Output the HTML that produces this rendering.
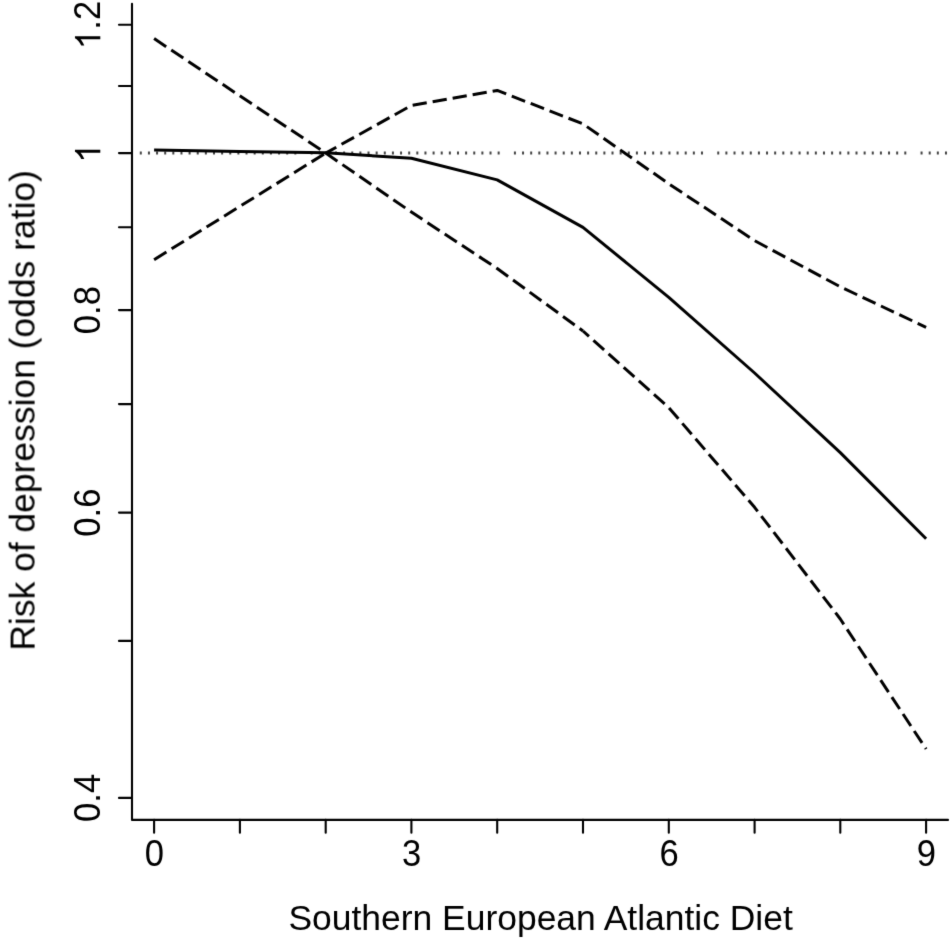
<!DOCTYPE html>
<html><head><meta charset="utf-8"><title>Chart</title>
<style>html,body{margin:0;padding:0;background:#fff}svg{display:block}text{font-family:"Liberation Sans",sans-serif;fill:#000}</style></head>
<body>
<svg width="950" height="941" viewBox="0 0 950 941">
<rect width="950" height="941" fill="#fff"/>
<defs><filter id="soft" x="0" y="0" width="950" height="941" filterUnits="userSpaceOnUse" color-interpolation-filters="sRGB"><feConvolveMatrix order="3" kernelMatrix="0.0100 0.0800 0.0100 0.0800 0.6400 0.0800 0.0100 0.0800 0.0100" divisor="1" edgeMode="duplicate" preserveAlpha="false"/></filter></defs>
<g filter="url(#soft)">
<path d="M139.80 153.1h2M147.93 153.1h2M156.07 153.1h2M164.20 153.1h2M172.33 153.1h2M180.47 153.1h2M188.60 153.1h2M196.73 153.1h2M204.86 153.1h2M213.00 153.1h2M221.13 153.1h2M229.26 153.1h2M237.40 153.1h2M245.53 153.1h2M253.66 153.1h2M261.80 153.1h2M269.93 153.1h2M278.06 153.1h2M286.19 153.1h2M294.33 153.1h2M310.59 153.1h2M318.73 153.1h2M326.86 153.1h2M334.99 153.1h2M343.12 153.1h2M351.26 153.1h2M359.39 153.1h2M367.52 153.1h2M375.66 153.1h2M383.79 153.1h2M391.92 153.1h2M400.06 153.1h2M408.19 153.1h2M416.32 153.1h2M424.45 153.1h2M432.59 153.1h2M440.72 153.1h2M448.85 153.1h2M456.99 153.1h2M465.12 153.1h2M473.25 153.1h2M481.39 153.1h2M489.52 153.1h2M497.65 153.1h2M513.92 153.1h2M522.05 153.1h2M530.18 153.1h2M538.32 153.1h2M546.45 153.1h2M554.58 153.1h2M562.72 153.1h2M570.85 153.1h2M578.98 153.1h2M587.12 153.1h2M595.25 153.1h2M603.38 153.1h2M611.51 153.1h2M619.65 153.1h2M627.78 153.1h2M635.91 153.1h2M644.05 153.1h2M652.18 153.1h2M660.31 153.1h2M668.44 153.1h2M676.58 153.1h2M684.71 153.1h2M692.84 153.1h2M700.98 153.1h2M717.24 153.1h2M725.38 153.1h2M733.51 153.1h2M741.64 153.1h2M749.77 153.1h2M757.91 153.1h2M766.04 153.1h2M774.17 153.1h2M782.31 153.1h2M790.44 153.1h2M798.57 153.1h2M806.71 153.1h2M814.84 153.1h2M822.97 153.1h2M831.11 153.1h2M839.24 153.1h2M847.37 153.1h2M855.50 153.1h2M863.64 153.1h2M871.77 153.1h2M879.90 153.1h2M888.04 153.1h2M896.17 153.1h2M904.30 153.1h2M920.57 153.1h2M928.70 153.1h2M936.83 153.1h2M944.97 153.1h2" stroke="#444" stroke-width="3" fill="none"/>
<g stroke="#000" stroke-width="2.1" fill="none" stroke-linecap="round">
<polyline points="132.0,3.7 132.0,819.9 948.0,819.9" stroke-linejoin="round"/>
<line x1="132.0" y1="24.8" x2="119" y2="24.8"/>
<line x1="132.0" y1="86.0" x2="119" y2="86.0"/>
<line x1="132.0" y1="153.1" x2="119" y2="153.1"/>
<line x1="132.0" y1="227.2" x2="119" y2="227.2"/>
<line x1="132.0" y1="310.1" x2="119" y2="310.1"/>
<line x1="132.0" y1="404.1" x2="119" y2="404.1"/>
<line x1="132.0" y1="512.6" x2="119" y2="512.6"/>
<line x1="132.0" y1="640.9" x2="119" y2="640.9"/>
<line x1="132.0" y1="797.9" x2="119" y2="797.9"/>
<line x1="154.1" y1="819.9" x2="154.1" y2="832.7"/>
<line x1="239.9" y1="819.9" x2="239.9" y2="832.7"/>
<line x1="325.7" y1="819.9" x2="325.7" y2="832.7"/>
<line x1="411.4" y1="819.9" x2="411.4" y2="832.7"/>
<line x1="497.2" y1="819.9" x2="497.2" y2="832.7"/>
<line x1="583.0" y1="819.9" x2="583.0" y2="832.7"/>
<line x1="668.8" y1="819.9" x2="668.8" y2="832.7"/>
<line x1="754.6" y1="819.9" x2="754.6" y2="832.7"/>
<line x1="840.3" y1="819.9" x2="840.3" y2="832.7"/>
<line x1="926.1" y1="819.9" x2="926.1" y2="832.7"/>
</g>
<g stroke="#000" fill="none" stroke-width="3" stroke-linejoin="round">
<polyline points="154.1,150.0 239.9,151.4 325.7,152.8 411.4,158.3 497.2,179.9 583.0,227.4 668.8,297.3 754.6,373.0 840.3,452.6 926.1,538.8"/>
<polyline points="154.1,259.7 325.7,153.1" stroke-dasharray="14.5 6.1"/>
<polyline points="325.7,153.1 411.4,105.5 497.2,90.4 583.0,123.9 668.8,183.8 754.6,240.6 840.3,286.8 926.1,327.3" stroke-dasharray="14.3 6.0" stroke-dashoffset="2.2"/>
<polyline points="154.1,38.6 325.7,153.1 411.4,212.1 497.2,268.5 583.0,331.0" stroke-dasharray="14.5 6.1"/>
<polyline points="583.0,331.0 668.8,407.7 754.6,507.3 840.3,619.0 926.1,749.0" stroke-dasharray="14.3 6.0" stroke-dashoffset="6.3"/>
</g>
<g font-size="35.3" text-anchor="middle">
<text transform="translate(154.3,865.6) scale(0.98,1.04)">0</text>
<text transform="translate(411.6,865.6) scale(0.98,1.04)">3</text>
<text transform="translate(669.0,865.6) scale(0.98,1.04)">6</text>
<text transform="translate(926.3,865.6) scale(0.98,1.04)">9</text>
<text x="540.6" y="929.8" font-size="35.45">Southern European Atlantic Diet</text>
<text transform="translate(100.3,310.1) rotate(-90) scale(0.98,1.04)">0.8</text>
<text transform="translate(100.3,512.6) rotate(-90) scale(0.98,1.04)">0.6</text>
<text transform="translate(100.3,797.9) rotate(-90) scale(0.98,1.04)">0.4</text>
<path d="M763 0H583V1147Q518 1085 412.5 1023T223 930V1104Q373 1174.5 485 1275T644 1470H763Z" transform="translate(100.3,162.92) rotate(-90) scale(0.01724,-0.01724)"/>
<path d="M763 0H583V1147Q518 1085 412.5 1023T223 930V1104Q373 1174.5 485 1275T644 1470H763Z" transform="translate(100.3,49.34) rotate(-90) scale(0.01724,-0.01724)"/>
<text text-anchor="start" transform="translate(100.3,29.70) rotate(-90) scale(0.98,1.04)">.2</text>
<text font-size="35.45" transform="translate(34.6,410.4) rotate(-90)">Risk of depression (odds ratio)</text>
</g>
</g>
</svg></body></html>
